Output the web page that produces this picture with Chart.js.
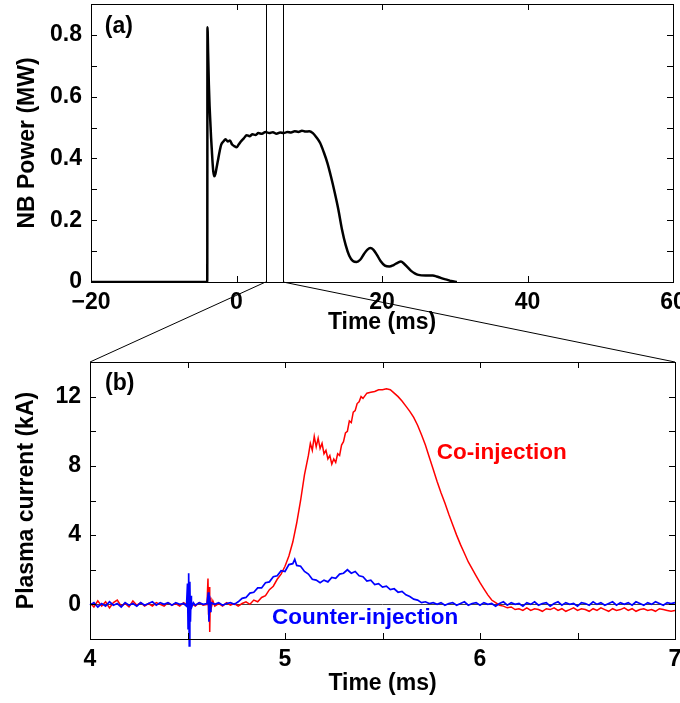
<!DOCTYPE html>
<html>
<head>
<meta charset="utf-8">
<script src="https://cdn.jsdelivr.net/npm/chart.js@4"></script>
<style>
  html, body { margin: 0; padding: 0; background: #fff; }
  #wrap { position: relative; width: 680px; height: 703px; }
  #topChart { position: absolute; left: 0; top: 0; }
  #botChart { position: absolute; left: 0; top: 340px; }
  #overlay { position: absolute; left: 0; top: 0; pointer-events: none; }
</style>
</head>
<body>
<div id="wrap">
  <canvas id="topChart" width="680" height="340"></canvas>
  <canvas id="botChart" width="680" height="363"></canvas>
  <canvas id="overlay" width="680" height="703"></canvas>
</div>
<script>
// (a) NB power vs time
const nbTime = [-20, -4.02, -3.99, -3.9, -3.8, -3.7, -3.6, -3.5, -3.4, -3.3, -3.2, -3.05, -2.9, -2.7, -2.5, -2.3, -2.1,
  -1.8, -1.5, -1.2, -0.9, -0.6, -0.3, 0, 0.3, 0.6, 1.0, 1.4, 1.8, 2.2, 2.6, 3.0, 3.5, 4.0, 4.5, 5.0, 5.5, 6.0, 6.5,
  7.0, 7.5, 8.0, 8.5, 9.0, 9.5, 10.0, 10.5, 11.0, 11.5, 12.0, 12.5, 13.0, 13.5, 14.0, 14.5, 15.0, 15.5, 16.0, 16.5,
  17.0, 17.5, 18.0, 18.4, 18.8, 19.3, 19.8, 20.4, 21.0, 21.6, 22.2, 22.6, 23.0, 23.5, 24.0, 24.5, 25.0, 26.0, 27.0,
  27.5, 28.0, 28.5, 29.0, 29.5, 30.3];
const nbPower = [0, 0, 0.825, 0.74, 0.64, 0.57, 0.52, 0.47, 0.43, 0.39, 0.36, 0.342, 0.35, 0.375, 0.40, 0.425, 0.445,
  0.455, 0.462, 0.455, 0.458, 0.445, 0.44, 0.436, 0.445, 0.455, 0.465, 0.475, 0.472, 0.478, 0.476, 0.482, 0.480, 0.486,
  0.482, 0.485, 0.480, 0.484, 0.482, 0.486, 0.484, 0.488, 0.486, 0.490, 0.487, 0.488, 0.482, 0.468, 0.45, 0.42, 0.385,
  0.34, 0.29, 0.235, 0.17, 0.12, 0.085, 0.068, 0.065, 0.072, 0.09, 0.105, 0.11, 0.105, 0.088, 0.068, 0.053, 0.05,
  0.055, 0.063, 0.066, 0.06, 0.048, 0.036, 0.028, 0.023, 0.021, 0.021, 0.018, 0.014, 0.01, 0.007, 0.003, 0];
const zoomWindow = [4, 6.4];

// (b) plasma current, co-injection
const coTime = [4.00, 4.02, 4.04, 4.06, 4.08, 4.10, 4.12, 4.14, 4.16, 4.18, 4.20, 4.22, 4.24, 4.26, 4.28, 4.30, 4.32,
  4.34, 4.36, 4.38, 4.40, 4.42, 4.44, 4.46, 4.48, 4.50, 4.52, 4.54, 4.56, 4.58, 4.60, 4.605, 4.608, 4.611, 4.614,
  4.617, 4.62, 4.63, 4.64, 4.66, 4.68, 4.70, 4.72, 4.74, 4.76, 4.78, 4.80, 4.82, 4.84, 4.86, 4.88, 4.90, 4.92, 4.94,
  4.96, 4.98, 5.00, 5.02, 5.04, 5.06, 5.08, 5.10, 5.12, 5.13, 5.14, 5.15, 5.16, 5.17, 5.18, 5.19, 5.20, 5.21, 5.22,
  5.23, 5.24, 5.25, 5.26, 5.27, 5.28, 5.29, 5.30, 5.31, 5.32, 5.33, 5.34, 5.35, 5.36, 5.37, 5.38, 5.39, 5.40, 5.42,
  5.44, 5.46, 5.48, 5.50, 5.52, 5.54, 5.56, 5.58, 5.60, 5.62, 5.64, 5.66, 5.68, 5.70, 5.72, 5.74, 5.76, 5.78, 5.80,
  5.82, 5.84, 5.86, 5.88, 5.90, 5.92, 5.94, 5.96, 5.98, 6.00, 6.02, 6.04, 6.06, 6.08, 6.10, 6.12, 6.14, 6.16, 6.18,
  6.20, 6.22, 6.24, 6.26, 6.28, 6.30, 6.32, 6.34, 6.36, 6.38, 6.40, 6.42, 6.44, 6.46, 6.48, 6.50, 6.52, 6.54, 6.56,
  6.58, 6.60, 6.62, 6.64, 6.66, 6.68, 6.70, 6.72, 6.74, 6.76, 6.78, 6.80, 6.82, 6.84, 6.86, 6.88, 6.90, 6.92, 6.94,
  6.96, 6.98, 7.00];
const coCurrent = [0.10, -0.15, 0.20, -0.10, 0.15, -0.20, 0.10, 0.25, -0.10, 0.05, -0.15, 0.20, -0.05, 0.10, -0.10,
  0.05, -0.10, 0.10, 0.00, -0.10, 0.10, -0.05, 0.05, -0.10, 0.10, -0.05, 0.05, -0.10, 0.10, -0.05, 0.00, 1.50, -0.60,
  1.00, -1.60, 0.40, -0.30, 0.20, -0.10, 0.05, -0.10, 0.10, -0.05, 0.05, -0.10, 0.05, 0.15, 0.00, 0.25, 0.15, 0.40,
  0.50, 0.85, 1.05, 1.45, 1.75, 2.20, 2.80, 3.60, 4.70, 6.00, 7.50, 8.60, 9.30, 8.90, 9.70, 9.10, 9.60, 9.00, 9.30,
  8.70, 8.90, 8.40, 8.60, 8.10, 8.40, 8.20, 8.70, 8.60, 9.20, 9.40, 9.90, 10.00, 10.60, 10.50, 11.10, 11.20, 11.60,
  11.70, 12.00, 11.90, 12.20, 12.25, 12.30, 12.40, 12.40, 12.45, 12.40, 12.20, 12.00, 11.75, 11.45, 11.15, 10.80,
  10.35, 9.80, 9.20, 8.50, 7.80, 7.10, 6.45, 5.85, 5.20, 4.60, 4.00, 3.45, 2.95, 2.45, 2.05, 1.65, 1.25, 0.90, 0.55,
  0.25, 0.10, -0.05, -0.10, -0.20, -0.15, -0.30, -0.25, -0.35, -0.20, -0.35, -0.25, -0.30, -0.40, -0.25, -0.30, -0.20,
  -0.35, -0.25, -0.40, -0.30, -0.20, -0.35, -0.25, -0.30, -0.40, -0.25, -0.35, -0.20, -0.30, -0.40, -0.25, -0.35,
  -0.30, -0.20, -0.35, -0.25, -0.40, -0.30, -0.25, -0.35, -0.30, -0.40, -0.25, -0.30, -0.35, -0.40, -0.35];

// (b) plasma current, counter-injection
const counterTime = [4.00, 4.02, 4.04, 4.06, 4.08, 4.10, 4.12, 4.14, 4.16, 4.18, 4.20, 4.22, 4.24, 4.26, 4.28, 4.30,
  4.32, 4.34, 4.36, 4.38, 4.40, 4.42, 4.44, 4.46, 4.48, 4.495, 4.500, 4.503, 4.506, 4.509, 4.512, 4.515, 4.518, 4.52,
  4.53, 4.54, 4.56, 4.58, 4.60, 4.607, 4.610, 4.613, 4.616, 4.62, 4.64, 4.66, 4.68, 4.70, 4.72, 4.74, 4.76, 4.78,
  4.80, 4.82, 4.84, 4.86, 4.88, 4.90, 4.92, 4.94, 4.96, 4.98, 5.00, 5.02, 5.04, 5.05, 5.06, 5.08, 5.10, 5.12, 5.14,
  5.16, 5.18, 5.20, 5.22, 5.24, 5.26, 5.28, 5.30, 5.32, 5.34, 5.36, 5.38, 5.40, 5.42, 5.44, 5.46, 5.48, 5.50, 5.52,
  5.54, 5.56, 5.58, 5.60, 5.62, 5.64, 5.66, 5.68, 5.70, 5.72, 5.74, 5.76, 5.78, 5.80, 5.82, 5.84, 5.86, 5.88, 5.90,
  5.92, 5.94, 5.96, 5.98, 6.00, 6.02, 6.04, 6.06, 6.08, 6.10, 6.12, 6.14, 6.16, 6.18, 6.20, 6.22, 6.24, 6.26, 6.28,
  6.30, 6.32, 6.34, 6.36, 6.38, 6.40, 6.42, 6.44, 6.46, 6.48, 6.50, 6.52, 6.54, 6.56, 6.58, 6.60, 6.62, 6.64, 6.66,
  6.68, 6.70, 6.72, 6.74, 6.76, 6.78, 6.80, 6.82, 6.84, 6.86, 6.88, 6.90, 6.92, 6.94, 6.96, 6.98, 7.00];
const counterCurrent = [-0.05, 0.10, -0.15, 0.05, -0.10, 0.15, -0.05, 0.05, -0.15, 0.10, -0.05, 0.05, -0.10, 0.10,
  -0.05, 0.05, 0.15, -0.05, 0.10, 0.00, 0.10, -0.05, 0.10, 0.00, 0.05, -0.10, 1.20, -1.40, 1.80, -2.40, 1.30, -1.00,
  0.50, -0.20, 0.10, -0.05, 0.10, 0.00, 0.05, 0.70, -1.00, 0.50, -0.40, 0.10, 0.00, 0.10, -0.05, 0.05, 0.10, 0.00,
  0.15, 0.35, 0.40, 0.65, 0.70, 0.95, 0.95, 1.25, 1.30, 1.60, 1.65, 1.95, 1.90, 2.30, 2.35, 2.60, 2.25, 2.20, 1.90,
  1.75, 1.45, 1.40, 1.25, 1.40, 1.30, 1.55, 1.50, 1.75, 1.80, 2.00, 1.80, 1.90, 1.65, 1.60, 1.35, 1.40, 1.15, 1.20,
  1.00, 1.05, 0.85, 0.90, 0.70, 0.75, 0.55, 0.45, 0.30, 0.25, 0.10, 0.15, 0.05, 0.10, 0.00, 0.10, -0.05, 0.05, 0.10,
  -0.05, 0.05, 0.15, -0.05, 0.05, 0.10, -0.05, 0.10, 0.00, 0.05, -0.10, 0.05, 0.15, -0.05, 0.10, 0.00, 0.05, -0.10,
  0.10, 0.00, 0.15, -0.05, 0.05, 0.10, -0.10, 0.05, 0.15, -0.05, 0.10, 0.00, 0.05, -0.10, 0.10, 0.05, -0.05, 0.15,
  0.00, 0.10, -0.05, 0.05, 0.15, -0.05, 0.10, 0.00, 0.10, -0.05, 0.15, 0.05, -0.05, 0.10, 0.00, 0.15, 0.05, -0.05,
  0.10, 0.05, 0.10];

const FONT = "'Liberation Sans', Arial, Helvetica, sans-serif";
const tickFont = { family: FONT, size: 23, weight: 'bold' };

function toXY(xs, ys) { return xs.map((x, i) => ({ x: x, y: ys[i] })); }

// keep the plot box where it is in the figure, no room made for edge labels
function fixX(h) {
  return s => { s.height = h; s.paddingLeft = 0; s.paddingRight = 0; };
}
function fixY(w) {
  return s => { s.width = w; s.paddingTop = 0; s.paddingBottom = 0; };
}

// box around the plot with inward tick marks on all four sides
const frameTicks = {
  id: 'frameTicks',
  afterDatasetsDraw(chart) {
    const { ctx, chartArea: a, scales } = chart;
    const len = 6;
    ctx.save();
    ctx.strokeStyle = '#000';
    ctx.lineWidth = 1;
    ctx.beginPath();
    scales.x.ticks.forEach(t => {
      const px = Math.round(scales.x.getPixelForValue(t.value)) + 0.5;
      ctx.moveTo(px, a.bottom); ctx.lineTo(px, a.bottom - len);
      ctx.moveTo(px, a.top); ctx.lineTo(px, a.top + len);
    });
    scales.y.ticks.forEach(t => {
      const py = Math.round(scales.y.getPixelForValue(t.value)) + 0.5;
      ctx.moveTo(a.left, py); ctx.lineTo(a.left + len, py);
      ctx.moveTo(a.right, py); ctx.lineTo(a.right - len, py);
    });
    ctx.stroke();
    ctx.strokeRect(Math.round(a.left) + 0.5, Math.round(a.top) + 0.5,
      Math.round(a.right - a.left), Math.round(a.bottom - a.top));
    ctx.restore();
  }
};

const topExtras = {
  id: 'topExtras',
  afterDatasetsDraw(chart) {
    const { ctx, chartArea: a, scales: { x, y } } = chart;
    ctx.save();
    ctx.strokeStyle = '#000';
    ctx.lineWidth = 1;
    ctx.beginPath();
    zoomWindow.forEach(t => {
      const px = Math.round(x.getPixelForValue(t)) + 0.5;
      ctx.moveTo(px, a.top); ctx.lineTo(px, a.bottom);
    });
    ctx.stroke();
    ctx.fillStyle = '#000';
    ctx.font = 'bold 23px ' + FONT;
    ctx.textBaseline = 'middle';
    ctx.fillText('(a)', x.getPixelForValue(-18.1), y.getPixelForValue(0.826));
    ctx.restore();
  }
};

const botExtras = {
  id: 'botExtras',
  beforeDatasetsDraw(chart) {
    const { ctx, chartArea: a, scales: { y } } = chart;
    const py = Math.round(y.getPixelForValue(0)) + 0.5;
    ctx.save();
    ctx.strokeStyle = '#444';
    ctx.lineWidth = 1;
    ctx.beginPath();
    ctx.moveTo(a.left, py); ctx.lineTo(a.right, py);
    ctx.stroke();
    ctx.restore();
  },
  afterDatasetsDraw(chart) {
    const { ctx, scales: { x, y } } = chart;
    ctx.save();
    ctx.textBaseline = 'middle';
    ctx.font = 'bold 23px ' + FONT;
    ctx.fillStyle = '#000';
    ctx.fillText('(b)', x.getPixelForValue(4.077), y.getPixelForValue(12.73));
    ctx.font = 'bold 22.5px ' + FONT;
    ctx.fillStyle = '#ff0000';
    ctx.fillText('Co-injection', x.getPixelForValue(5.778), y.getPixelForValue(8.76));
    ctx.fillStyle = '#0000ff';
    ctx.fillText('Counter-injection', x.getPixelForValue(4.933), y.getPixelForValue(-0.75));
    ctx.restore();
  }
};

const topChart = new Chart(document.getElementById('topChart'), {
  type: 'line',
  data: {
    datasets: [{
      data: toXY(nbTime, nbPower),
      borderColor: '#000',
      borderWidth: 2.5,
      pointRadius: 0,
      cubicInterpolationMode: 'monotone'
    }]
  },
  options: {
    responsive: false,
    animation: false,
    layout: { autoPadding: false, padding: { top: 4, right: 7, left: 0, bottom: 0 } },
    plugins: { legend: { display: false }, tooltip: { enabled: false } },
    scales: {
      x: {
        type: 'linear', min: -20, max: 60,
        grid: { display: false, drawTicks: false },
        border: { display: false },
        ticks: {
          stepSize: 20, padding: 7, color: '#000', font: tickFont, autoSkip: false, maxRotation: 0,
          callback: v => v < 0 ? '\u2212' + Math.abs(v) : String(v)
        },
        title: { display: true, text: 'Time (ms)', color: '#000', font: tickFont, padding: { top: 0, bottom: 4 } },
        afterFit: fixX(58)
      },
      y: {
        min: 0, max: 0.9,
        grid: { display: false, drawTicks: false },
        border: { display: false },
        ticks: {
          stepSize: 0.1, padding: 9, color: '#000', font: tickFont, autoSkip: false,
          callback: v => {
            const k = Math.round(v * 10);
            if (k % 2 || k > 8) return '';
            return k === 0 ? '0' : (k / 10).toFixed(1);
          }
        },
        title: { display: true, text: 'NB Power (MW)', color: '#000', font: tickFont, padding: { top: 14, bottom: 0 } },
        afterFit: fixY(91)
      }
    }
  },
  plugins: [topExtras, frameTicks]
});

const botChart = new Chart(document.getElementById('botChart'), {
  type: 'line',
  data: {
    datasets: [{
      label: 'Co-injection',
      data: toXY(coTime, coCurrent),
      borderColor: '#ff0000',
      borderWidth: 1.5,
      pointRadius: 0,
      order: 1
    }, {
      label: 'Counter-injection',
      data: toXY(counterTime, counterCurrent),
      borderColor: '#0000ff',
      borderWidth: 1.7,
      pointRadius: 0,
      clip: false,
      order: 0
    }]
  },
  options: {
    responsive: false,
    animation: false,
    layout: { autoPadding: false, padding: { top: 22, right: 5, left: 0, bottom: 0 } },
    plugins: { legend: { display: false }, tooltip: { enabled: false } },
    scales: {
      x: {
        type: 'linear', min: 4, max: 7,
        grid: { display: false, drawTicks: false },
        border: { display: false },
        ticks: {
          stepSize: 0.5, padding: 7, color: '#000', font: tickFont, autoSkip: false, maxRotation: 0,
          callback: v => Number.isInteger(v) ? String(v) : ''
        },
        title: { display: true, text: 'Time (ms)', color: '#000', font: tickFont, padding: { top: 0, bottom: 6 } },
        afterFit: fixX(64)
      },
      y: {
        min: -2, max: 14,
        grid: { display: false, drawTicks: false },
        border: { display: false },
        ticks: {
          stepSize: 2, padding: 9, color: '#000', font: tickFont, autoSkip: false,
          callback: v => (v % 4 === 0 && v >= 0 && v <= 12) ? String(v) : ''
        },
        title: { display: true, text: 'Plasma current (kA)', color: '#000', font: tickFont, padding: { top: 13, bottom: 0 } },
        afterFit: fixY(90)
      }
    }
  },
  plugins: [botExtras, frameTicks]
});

// zoom connectors between panel (a) and panel (b)
const oc = document.getElementById('overlay').getContext('2d');
const botOffset = 340;
const tx = topChart.scales.x, ta = topChart.chartArea, ba = botChart.chartArea;
oc.strokeStyle = '#000';
oc.lineWidth = 1;
oc.beginPath();
oc.moveTo(tx.getPixelForValue(zoomWindow[0]), ta.bottom);
oc.lineTo(ba.left, ba.top + botOffset);
oc.moveTo(tx.getPixelForValue(zoomWindow[1]), ta.bottom);
oc.lineTo(ba.right, ba.top + botOffset);
oc.stroke();
</script>
</body>
</html>
